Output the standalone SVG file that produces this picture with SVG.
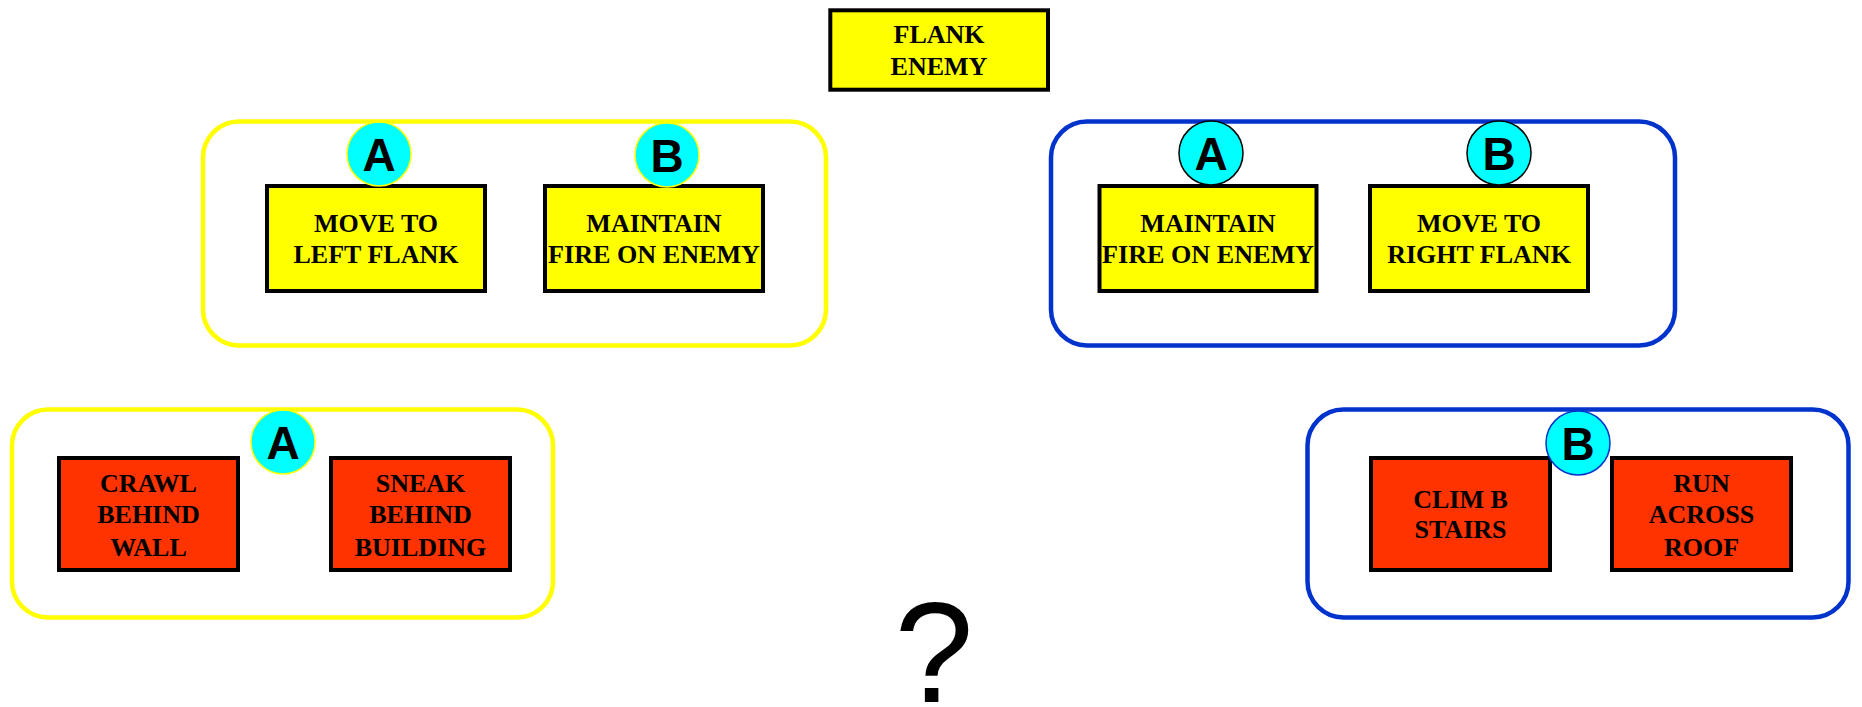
<svg xmlns="http://www.w3.org/2000/svg" width="1862" height="707" viewBox="0 0 1862 707">
<style>
.grpY{fill:none;stroke:#FFFF00;stroke-width:4.5}
.grpB{fill:none;stroke:#0033CC;stroke-width:4.5}
.boxY{fill:#FFFF00;stroke:#000;stroke-width:4}
.boxR{fill:#FF3300;stroke:#000;stroke-width:4}
.lbl{font-family:"Liberation Serif","Times New Roman",serif;font-weight:bold;font-size:26px;fill:#000;text-anchor:middle}
.circ{fill:#00FFFF;stroke-width:1.5}
.let{font-family:"Liberation Sans",Arial,sans-serif;font-weight:bold;font-size:46px;fill:#000;text-anchor:middle}
.q{font-family:"Liberation Sans",Arial,sans-serif;font-size:142px;fill:#000;text-anchor:middle}
</style>
<rect width="1862" height="707" fill="#FFFFFF"/>
<g id="connectors"/>

<g id="group-left-top"><rect class="grpY" x="203" y="121.5" width="623" height="224" rx="36" ry="36"/></g>
<g id="group-right-top"><rect class="grpB" x="1051" y="121.5" width="624" height="224" rx="36" ry="36"/></g>
<g id="group-left-bottom"><rect class="grpY" x="12" y="409.5" width="541" height="208" rx="36" ry="36"/></g>
<g id="group-right-bottom"><rect class="grpB" x="1307.5" y="409.5" width="541" height="208" rx="36" ry="36"/></g>

<g id="flank-enemy">
<rect class="boxY" x="830.3" y="10.3" width="217.7" height="79.4"/>
<text class="lbl" x="939" y="43.3">FLANK</text>
<text class="lbl" x="939" y="75">ENEMY</text>
</g>

<g id="move-left-flank">
<rect class="boxY" x="267" y="186" width="218" height="105"/>
<text class="lbl" x="376" y="231.7">MOVE TO</text>
<text class="lbl" x="376" y="263.3">LEFT FLANK</text>
</g>
<g id="maintain-fire-left">
<rect class="boxY" x="545" y="186" width="218" height="105"/>
<text class="lbl" x="654" y="231.7">MAINTAIN</text>
<text class="lbl" x="654" y="263.3" textLength="212" lengthAdjust="spacingAndGlyphs">FIRE ON ENEMY</text>
</g>
<g id="maintain-fire-right">
<rect class="boxY" x="1099.5" y="186" width="217" height="105"/>
<text class="lbl" x="1208" y="231.7">MAINTAIN</text>
<text class="lbl" x="1208" y="263.3" textLength="212" lengthAdjust="spacingAndGlyphs">FIRE ON ENEMY</text>
</g>
<g id="move-right-flank">
<rect class="boxY" x="1370" y="186" width="218" height="105"/>
<text class="lbl" x="1479" y="231.7">MOVE TO</text>
<text class="lbl" x="1479" y="263.3">RIGHT FLANK</text>
</g>

<g id="crawl-behind-wall">
<rect class="boxR" x="59" y="458" width="179" height="112"/>
<text class="lbl" x="148.5" y="491.7">CRAWL</text>
<text class="lbl" x="148.5" y="523.3">BEHIND</text>
<text class="lbl" x="148.5" y="555.7">WALL</text>
</g>
<g id="sneak-behind-building">
<rect class="boxR" x="331" y="458" width="179" height="112"/>
<text class="lbl" x="420.5" y="491.7">SNEAK</text>
<text class="lbl" x="420.5" y="523.3">BEHIND</text>
<text class="lbl" x="420.5" y="555.7">BUILDING</text>
</g>
<g id="climb-stairs">
<rect class="boxR" x="1371" y="458" width="179" height="112"/>
<text class="lbl" x="1460.5" y="507.7">CLIM B</text>
<text class="lbl" x="1460.5" y="538.3">STAIRS</text>
</g>
<g id="run-across-roof">
<rect class="boxR" x="1612" y="458" width="179" height="112"/>
<text class="lbl" x="1701.5" y="491.7">RUN</text>
<text class="lbl" x="1701.5" y="523.3">ACROSS</text>
<text class="lbl" x="1701.5" y="555.7">ROOF</text>
</g>

<g id="badge-left-a">
<circle class="circ" cx="379" cy="154" r="32" stroke="#FFFF00"/>
<text class="let" x="379" y="171">A</text>
</g>
<g id="badge-left-b">
<circle class="circ" cx="667" cy="155" r="32" stroke="#FFFF00"/>
<text class="let" x="667" y="172">B</text>
</g>
<g id="badge-right-a">
<circle class="circ" cx="1211" cy="153" r="32" stroke="#000"/>
<text class="let" x="1211" y="170">A</text>
</g>
<g id="badge-right-b">
<circle class="circ" cx="1499" cy="153" r="32" stroke="#000"/>
<text class="let" x="1499" y="170">B</text>
</g>
<g id="badge-bottom-a">
<circle class="circ" cx="283" cy="442" r="32" stroke="#FFFF00"/>
<text class="let" x="283" y="459">A</text>
</g>
<g id="badge-bottom-b">
<circle class="circ" cx="1578" cy="443" r="32" stroke="#0033CC"/>
<text class="let" x="1578" y="460">B</text>
</g>

<g id="question">
<text class="q" x="934" y="702">?</text>
</g>
</svg>
